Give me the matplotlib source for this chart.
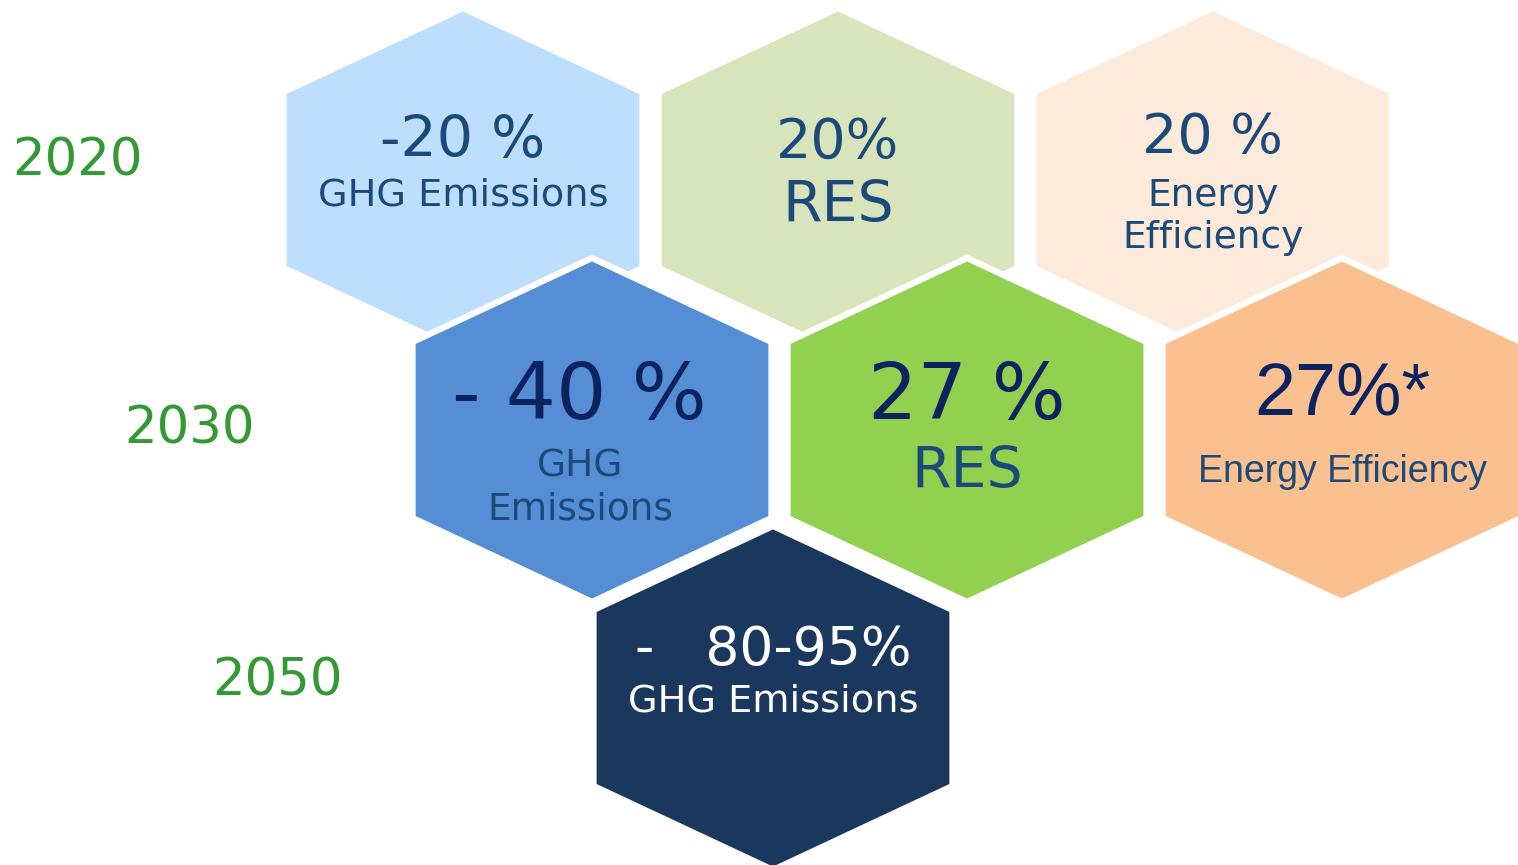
import numpy as np
import matplotlib.pyplot as plt
from matplotlib.patches import Polygon

# EU climate & energy targets
years = ["2020", "2030", "2050"]
year_xy = [(78, 161), (190, 429), (277, 682)]

# one entry per hexagon: row, centre x, big text, small text
hex_rows = [0, 0, 0, 1, 1, 1, 2]
hex_cx = [463, 838, 1213, 592, 967, 1342, 773]
big_text = ["-20 %", "20%", "20 %", "- 40 %", "27 %", "27%*", "-   80-95%"]
small_text = ["GHG Emissions", "RES", "Energy\nEfficiency", "GHG\nEmissions",
              "RES", "Energy Efficiency", "GHG Emissions"]
fills = ["#BDDFFD", "#D8E4BC", "#FDEADA", "#558ED5", "#92D050", "#FAC090", "#1A375D"]

row_cy = [180, 430, 698]
green = "#339933"
mid_blue = "#1B4A7A"
navy = "#0D2360"

fig = plt.figure(figsize=(15.18, 8.65), dpi=100)
ax = fig.add_axes([0, 0, 1, 1])
ax.set_xlim(0, 1518)
ax.set_ylim(865, 0)
ax.axis("off")

hw, sh, side = 179.5, 84, 88  # half width, shoulder drop, half side (incl. white border)


def hexagon(cx, cy):
    pts = [(cx, cy - side - sh), (cx + hw, cy - side), (cx + hw, cy + side),
           (cx, cy + side + sh), (cx - hw, cy + side), (cx - hw, cy - side)]
    return Polygon(pts, closed=True)


for i in range(len(hex_cx)):
    cy = row_cy[hex_rows[i]]
    p = hexagon(hex_cx[i], cy)
    p.set_facecolor(fills[i])
    p.set_edgecolor("white")
    p.set_linewidth(4.5)
    p.set_joinstyle("miter")
    p.set_zorder(1 + hex_rows[i])
    ax.add_patch(p)

# texts (styles per hexagon)
big_cfg = [
    dict(dx=0, dy=-38, size=41, color=mid_blue, family="DejaVu Sans"),
    dict(dx=0, dy=-37, size=40, color=mid_blue, family="DejaVu Sans"),
    dict(dx=0, dy=-42, size=40, color=mid_blue, family="DejaVu Sans"),
    dict(dx=-13, dy=-33, size=57, color=navy, family="DejaVu Sans"),
    dict(dx=0, dy=-33, size=56, color=navy, family="DejaVu Sans"),
    dict(dx=0, dy=-35, size=53, color=navy, family="Liberation Sans"),
    dict(dx=0, dy=-48, size=38.5, color="white", family="DejaVu Sans"),
]
small_cfg = [
    dict(dx=0, dy=16, size=27.5, color=mid_blue, family="DejaVu Sans"),
    dict(dx=0, dy=27, size=41, color=mid_blue, family="DejaVu Sans"),
    dict(dx=0, dy=37, size=27, color=mid_blue, family="DejaVu Sans"),
    dict(dx=-12, dy=58, size=27, color=mid_blue, family="DejaVu Sans"),
    dict(dx=0, dy=42, size=41, color=mid_blue, family="DejaVu Sans"),
    dict(dx=0, dy=42, size=27, color=mid_blue, family="Liberation Sans"),
    dict(dx=0, dy=4, size=27.5, color="white", family="DejaVu Sans"),
]

for i in range(len(hex_cx)):
    cy = row_cy[hex_rows[i]]
    b = big_cfg[i]
    s = small_cfg[i]
    ax.text(hex_cx[i] + b["dx"], cy + b["dy"], big_text[i], ha="center", va="center",
            fontsize=b["size"], color=b["color"], family=b["family"], zorder=10)
    ax.text(hex_cx[i] + s["dx"], cy + s["dy"], small_text[i], ha="center", va="center",
            fontsize=s["size"], color=s["color"], family=s["family"],
            linespacing=1.25, zorder=10)

for y, (x, yy) in zip(years, year_xy):
    ax.text(x, yy, y, ha="center", va="center", fontsize=37, color=green)

fig.savefig("out.png", dpi=100)
